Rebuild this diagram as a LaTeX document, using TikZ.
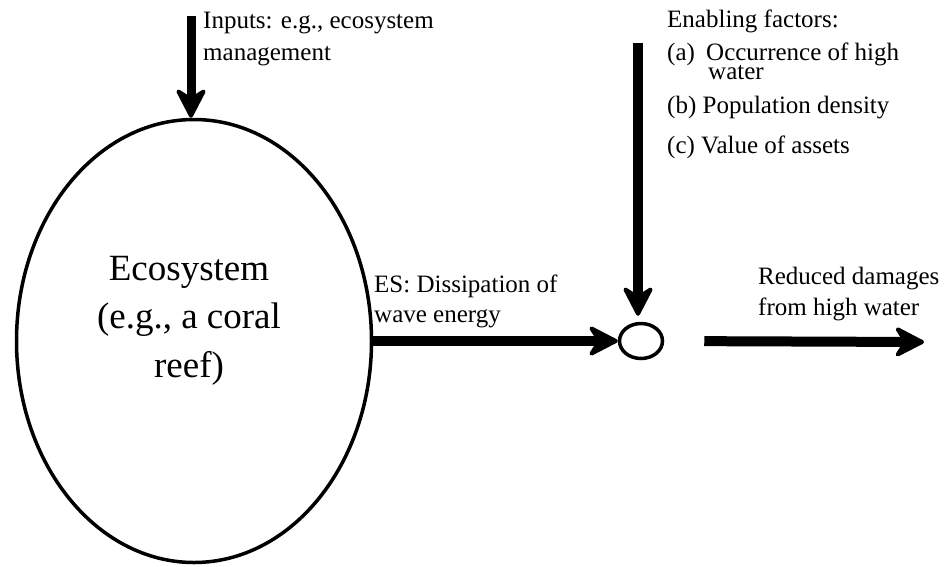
\documentclass[tikz,border=0pt]{standalone}
\usepackage{fontspec}
\setmainfont{Liberation Serif}
\usetikzlibrary{arrows.meta,shapes.geometric}
\tikzset{
  lbl/.style={anchor=base west,inner sep=0pt,font=\fontsize{25}{30}\selectfont},
  ecolbl/.style={anchor=base,inner sep=0pt,font=\fontsize{37}{44}\selectfont},
  bigtip/.style={-{Stealth[length=34pt,width=35pt,inset=11pt,round,line width=4pt]}},
  bigarrow/.style={line width=10pt,bigtip},
}
\begin{document}
\begin{tikzpicture}[x=1pt,y=-1pt]
\useasboundingbox (0,0) rectangle (947,566);
% main ecosystem ellipse
\node[ellipse,draw,line width=3.5pt,minimum width=355pt,minimum height=443pt,inner sep=0pt] (eco) at (194,341) {};
\node[ecolbl] (eco1) at (189,280) {Ecosystem};
\node[ecolbl] (eco2) at (189,328) {(e.g., a coral};
\node[ecolbl] (eco3) at (189,377) {reef)};
% small junction circle
\node[ellipse,draw,line width=3.5pt,minimum width=43pt,minimum height=35pt,inner sep=0pt] (circ) at (641,341) {};
% coordinates for free arrow ends
\coordinate (instart) at (191,16);
\coordinate (efstart) at (638,43);
\coordinate (outend) at (924,342);
% arrows
\draw[line width=9pt,bigtip] (instart) -- (instart |- eco.north);
\draw[bigarrow] (eco.east |- circ.west) -- (circ.west);
\draw[bigarrow,shorten >=6pt] (efstart) -- (efstart |- circ.north);
\draw[bigarrow,shorten <=40pt] (circ.east) -- (outend);
% labels
\node[lbl] (in1) at (203,28) {Inputs: e.g., ecosystem};
\node[lbl] (in2) at (203,60) {management};
\node[lbl] (ef0) at (667,27) {Enabling factors:};
\node[lbl] (efa) at (667,60) {(a)};
\node[lbl] (efa1) at (706,60) {Occurrence of high};
\node[lbl] (efa2) at (708,79) {water};
\node[lbl] (efb) at (667,113) {(b) Population density};
\node[lbl] (efc) at (667,153) {(c) Value of assets};
\node[lbl] (es1) at (374,292) {ES: Dissipation of};
\node[lbl] (es2) at (374,322) {wave energy};
\node[lbl] (rd1) at (758,284) {Reduced damages};
\node[lbl] (rd2) at (758,315) {from high water};
\end{tikzpicture}
\end{document}
